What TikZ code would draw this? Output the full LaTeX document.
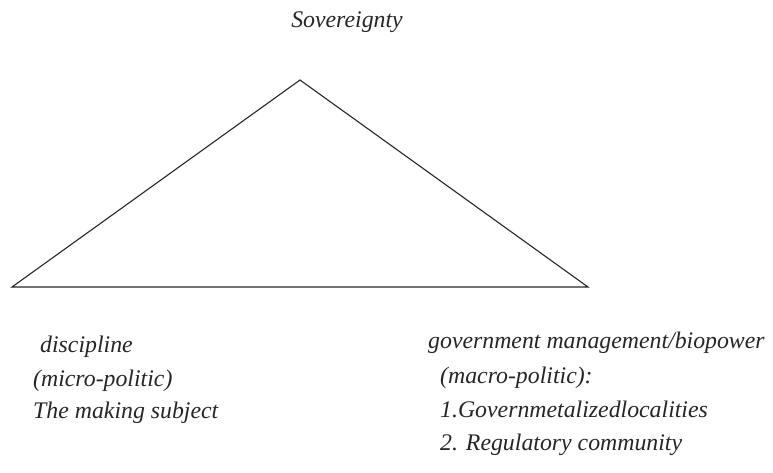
\documentclass[tikz,border=0pt]{standalone}
\usepackage{fontspec}
\setmainfont{Liberation Serif}
\begin{document}
\begin{tikzpicture}[x=1pt,y=-1pt,
  lbl/.style={anchor=base west,inner sep=0pt,font=\fontsize{23.8}{26}\selectfont\itshape,text=black!85},
  edge/.style={draw=black!85,line width=1.1pt,line join=miter}]
\useasboundingbox (0,0) rectangle (773,473);
\coordinate (apex) at (300,80);
\coordinate (left) at (12,287);
\coordinate (right) at (588,287);
\draw[edge] (apex) -- (left) -- (right) -- cycle;
\node[lbl,anchor=base] (sov) at (347,28) {Sovereignty};
\node[lbl] (d1) at (40,352) {discipline};
\node[lbl] (d2) at (33,386) {(micro-politic)};
\node[lbl] (d3) at (33,418) {The making subject};
\node[lbl] (g1) at (428,348) {government management/biopower};
\node[lbl] (g2) at (440,383) {(macro-politic):};
\node[lbl] (g3) at (440,417) {1.Governmetalizedlocalities};
\node[lbl] (g4) at (440,450) {2. Regulatory community};
\end{tikzpicture}
\end{document}
